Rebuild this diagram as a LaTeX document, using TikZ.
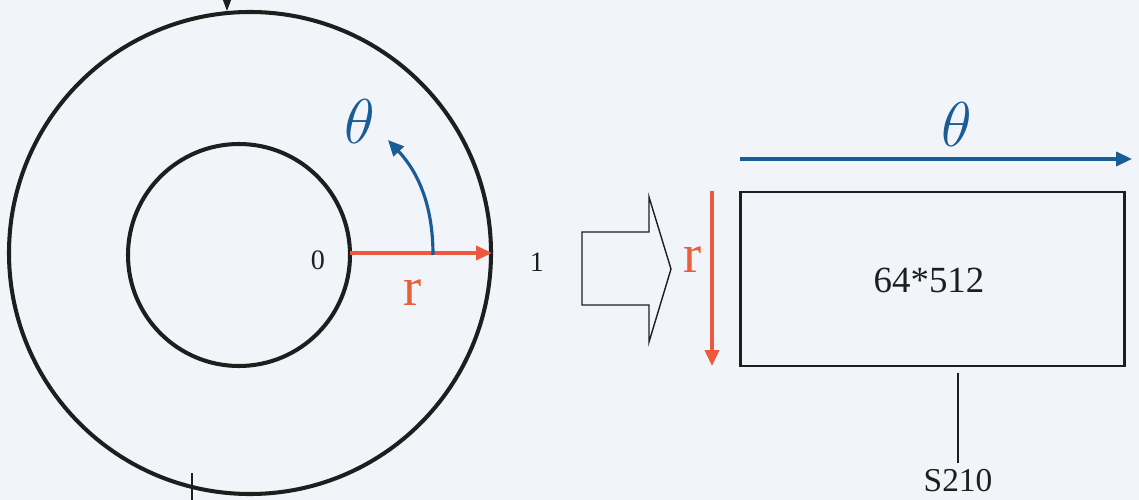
\RequirePackage{fix-cm}
\documentclass[tikz,border=0pt]{standalone}
\usepackage{fontspec}
\setmainfont{Liberation Serif}
\usetikzlibrary{arrows.meta}
\definecolor{bgc}{RGB}{241,244,249}
\definecolor{redc}{RGB}{238,88,62}
\definecolor{rlab}{RGB}{232,96,58}
\definecolor{bluec}{RGB}{26,92,150}
\definecolor{inkc}{RGB}{30,30,30}
\tikzset{
  ring/.style={circle, draw=inkc, line width=2.3pt, inner sep=0pt},
  redarrow/.style={draw=redc, line width=1.8pt, -{Triangle[length=9pt,width=8pt]}},
  bluearrow/.style={draw=bluec, line width=1.8pt, -{Triangle[length=9pt,width=8pt]}},
  thin line/.style={draw=inkc, line width=0.8pt},
  lbl/.style={inner sep=0pt, text=inkc},
}
\begin{document}
\begin{tikzpicture}[x=0.02cm, y=-0.02cm]
\useasboundingbox (0,0) rectangle (1139,500);
\fill[bgc] (0,0) rectangle (1139,500);
% circles
\node[ring, minimum size=482*0.02cm] (outer) at (250,253) {};
\node[ring, minimum size=222*0.02cm] (inner) at (239,255) {};
% top and bottom marks
\coordinate (topin) at (227,0);
\coordinate (topout) at (227,11);
\draw[draw=inkc, line width=0.9pt, -{Triangle[length=7pt,width=5pt]}] (topin) -- (topout);
\coordinate (botA) at (192,473);
\coordinate (botB) at (192,500);
\draw[thin line] (botA) -- (botB);
% radius arrow
\coordinate (rstart) at (350,253);
\coordinate (rend) at (492,253);
\draw[redarrow] (rstart) -- (rend);
\node[lbl, font=\fontsize{16}{16}\selectfont] (zero) at (318,260) {0};
\node[lbl, font=\fontsize{16}{16}\selectfont] (one) at (537,262) {1};
\node[lbl, text=rlab, font=\fontsize{31}{31}\selectfont] (rl) at (413,293) {r};
% theta arc
\coordinate (astart) at (433,255);
\coordinate (aend) at (388,140);
\draw[bluearrow] (astart) .. controls (433,205) and (418,172) .. (aend);
\node[lbl, text=bluec, font=\fontsize{36}{36}\selectfont] (thl) at (360,122) {$\theta$};
% outline arrow
\draw[draw=inkc, line width=0.8pt, line join=miter]
  (582,232) -- (649,232) -- (649,197) -- (671,269) -- (649,342) -- (649,305) -- (582,305) -- cycle;
% right part
\node[draw=inkc, line width=1.7pt, minimum width=384*0.02cm, minimum height=174*0.02cm, inner sep=0pt] (rect) at (932.5,279) {};
\node[lbl, font=\fontsize{21}{21}\selectfont] (dims) at (929,280) {64*512};
\coordinate (ts) at (740,159);
\coordinate (te) at (1132,159);
\draw[bluearrow] (ts) -- (te);
\node[lbl, text=bluec, font=\fontsize{36}{36}\selectfont] (thr) at (957,125) {$\theta$};
\coordinate (rs) at (712,191);
\coordinate (re) at (712,366);
\draw[redarrow] (rs) -- (re);
\node[lbl, text=rlab, font=\fontsize{31}{31}\selectfont] (rr) at (693,260) {r};
\coordinate (ls) at (958,373);
\coordinate (le) at (958,463);
\draw[thin line] (ls) -- (le);
\node[lbl, font=\fontsize{19}{19}\selectfont] (s210) at (958,481) {S210};
\end{tikzpicture}
\end{document}
